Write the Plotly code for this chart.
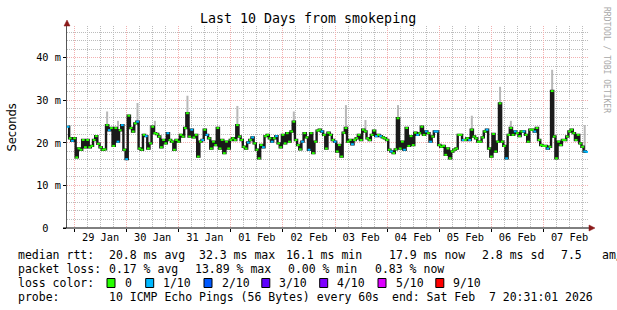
import plotly.graph_objects as go
import pandas as pd

# ---------------- data ----------------
title_text = "Last 10 Days from smokeping"
range_start = "2026-01-28 20:31:01"
range_end = "2026-02-07 20:31:01"
first_sample = "2026-01-28 21:00"

median_ms = [
    23.8, 21.1, 20.5, 21.1, 16.6, 18.7, 18.4, 20.7, 19.0, 20.7,
    19.0, 19.3, 20.7, 21.6, 19.8, 19.0, 18.4, 18.5, 24.2, 23.0,
    23.5, 19.3, 23.5, 20.3, 23.0, 24.2, 18.4, 16.2, 26.4, 23.5,
    22.7, 24.6, 25.0, 18.7, 18.4, 21.9, 21.6, 18.7, 19.9, 23.8,
    22.3, 22.1, 21.5, 19.0, 20.7, 19.9, 22.3, 20.7,
    20.3, 18.4, 20.7, 20.3, 21.9, 21.5, 23.5, 27.0, 21.5, 23.1,
    21.3, 21.9, 16.8, 20.3, 20.7, 23.1, 21.9, 21.1, 18.7, 20.3,
    19.5, 23.5, 18.7, 20.7, 17.6, 20.3, 18.7, 20.7, 21.1, 20.7,
    24.2, 21.5, 20.7, 19.1, 18.7, 20.1, 20.7, 21.3, 19.9, 18.4,
    16.4, 19.5, 19.0, 21.6, 21.9, 21.1, 20.3, 21.1,
    21.6, 19.9, 19.0, 21.9, 19.9, 22.3, 20.3, 22.7, 25.0, 20.7,
    19.5, 18.5, 20.3, 22.3, 21.3, 18.4, 22.3, 17.6, 20.3, 22.9,
    23.1, 22.7, 21.9, 18.7, 22.4, 21.9, 20.7, 20.3, 18.0, 19.5,
    16.8, 22.4, 23.5, 20.3, 20.7, 19.7, 20.7, 21.1, 21.9, 20.7,
    23.1, 22.7, 21.1, 20.7, 21.9, 22.9, 21.6, 21.9,
    21.6, 21.3, 21.1, 20.7, 18.4, 18.0, 17.6, 18.5, 25.8, 18.7,
    20.3, 18.4, 23.5, 19.3, 21.6, 19.5, 22.4, 21.9, 22.3, 23.8,
    21.9, 22.7, 22.3, 20.3, 21.5, 22.7, 22.7, 19.5, 19.1, 19.3,
    17.2, 18.7, 16.4, 18.0, 18.4, 18.7, 21.9, 21.9, 20.7, 20.7,
    21.1, 20.7, 23.1, 21.5, 21.1, 20.3, 20.3, 21.3,
    22.7, 23.1, 18.7, 16.8, 22.1, 18.0, 20.3, 29.3, 20.3, 19.3,
    16.4, 21.9, 23.5, 21.9, 22.7, 22.3, 21.6, 22.7, 22.7, 21.9,
    20.3, 23.1, 23.1, 22.7, 23.5, 20.7, 19.5, 19.3, 19.3, 18.7,
    19.1, 32.2, 21.5, 16.4, 20.3, 19.5, 20.7, 20.7, 21.5, 22.7,
    23.1, 22.3, 20.7, 21.9, 19.9, 19.1, 18.0, 17.9,
]
loss_1of10_idx = [0, 2, 19, 23, 25, 27, 32, 36, 46,
                  57, 62, 64, 83, 85, 90, 94,
                  96, 108, 111, 117, 123, 131, 142,
                  144, 149, 155, 161, 165, 167, 169, 170, 182, 185,
                  193, 202, 206, 210, 215, 221, 238, 239]
spike_idx = [18, 23, 32, 38, 40, 55, 78, 104, 128, 137, 152, 186, 199, 204, 223, 238]
spike_top_ms = [27.4, 25.2, 29.4, 24.2, 25.2, 31.1, 28.7, 27.4, 28.9, 25.4,
                28.9, 26.4, 33.2, 25.2, 37.2, 24.2]

ytick_vals = [0, 10, 20, 30, 40]
ytick_text = ["0\u00a0\u00a0", "10 m", "20 m", "30 m", "40 m"]

loss_labels = ["0", "1/10", "2/10", "3/10", "4/10", "5/10", "9/10"]
loss_colors = ["#26ff00", "#00b8ff", "#0059ff", "#5e00ff", "#7e00ff", "#dd00ff", "#ff0000"]

rtt_label = "median rtt:"
rtt_stats = ["20.8 ms avg", "32.3 ms max", "16.1 ms min", "17.9 ms now", "2.8 ms sd", "7.5", "am/as"]
loss_label = "packet loss:"
loss_stats = ["0.17 % avg", "13.89 % max", "0.00 % min", "0.83 % now"]
probe_text = "10 ICMP Echo Pings (56 Bytes) every 60s"
end_text = "end: Sat Feb\u00a0\u00a07 20:31:01 2026"

# ---------------- figure ----------------
W, H = 617, 310
L, R, T, B = 67, 29, 26, 82
PW, PH = W - L - R, H - T - B
MONO = "DejaVu Sans Mono"
LEG = 11.5


def px(x):
    return (x - L) / PW


def py(y):
    return (H - B - y) / PH


times = pd.date_range(first_sample, periods=len(median_ms), freq="h")
loss_level = [1 if i in loss_1of10_idx else 0 for i in range(len(median_ms))]
mark_colors = [loss_colors[l] for l in loss_level]

fig = go.Figure()

# smoke spikes (grey)
sx, sy = [], []
for i, top in zip(spike_idx, spike_top_ms):
    sx += [times[i], times[i], None]
    sy += [median_ms[i], top, None]
fig.add_trace(go.Scatter(x=sx, y=sy, mode="lines",
                         line=dict(color="#b8b8b8", width=2),
                         hoverinfo="skip", showlegend=False))

# median line (black steps)
fig.add_trace(go.Scatter(x=times, y=median_ms, mode="lines",
                         line=dict(color="#1a1a1a", width=2.4, shape="hvh"),
                         hoverinfo="skip", showlegend=False))

# loss-coloured median ticks
fig.add_trace(go.Scatter(x=times, y=median_ms, mode="markers",
                         marker=dict(symbol="line-ew", size=2,
                                     line=dict(color=mark_colors, width=2)),
                         showlegend=False))

grid_major = "#f2b0b0"
grid_minor = "#bcbcbc"
DASH = "1px,1px"

fig.update_layout(
    width=W, height=H,
    margin=dict(l=L, r=R, t=T, b=B),
    paper_bgcolor="white", plot_bgcolor="white",
    showlegend=False,
    xaxis=dict(
        type="date", range=[range_start, range_end],
        tick0="2026-01-29", dtick=86400000,
        tickformat="%d %b", ticklabelmode="period",
        showgrid=True, gridcolor=grid_major, griddash=DASH, gridwidth=1,
        ticks="outside", ticklen=3, tickcolor="#000",
        ticklabelstandoff=-3,
        tickfont=dict(family=MONO, size=10.3, color="#000"),
        showline=False, zeroline=False,
        minor=dict(dtick=6 * 3600 * 1000, showgrid=True, gridcolor=grid_minor,
                   griddash=DASH, ticks=""),
    ),
    yaxis=dict(
        range=[0, 47.5],
        tickvals=ytick_vals, ticktext=ytick_text,
        showgrid=True, gridcolor=grid_major, griddash=DASH,
        ticks="outside", ticklen=3, tickcolor="#000",
        tickfont=dict(family=MONO, size=10.3, color="#000"),
        showline=True, linecolor="#555", linewidth=1,
        zeroline=False,
        minor=dict(dtick=2, showgrid=True, gridcolor=grid_minor,
                   griddash=DASH, ticks=""),
    ),
)

shapes = []
# x axis line + arrows
shapes.append(dict(type="line", xref="paper", yref="paper",
                   x0=px(63), x1=px(592), y0=0, y1=0,
                   line=dict(color="#000", width=1)))
shapes.append(dict(type="path", xref="paper", yref="paper",
                   path=f"M {px(589)} {py(225)} L {px(595)} {py(228)} L {px(589)} {py(231)} Z",
                   fillcolor="#8b1a1a", line=dict(color="#8b1a1a", width=0.5)))
shapes.append(dict(type="path", xref="paper", yref="paper",
                   path=f"M {px(64)} {py(26)} L {px(67)} {py(20)} L {px(70)} {py(26)} Z",
                   fillcolor="#8b1a1a", line=dict(color="#8b1a1a", width=0.5)))

annotations = []


def txt(x, y, s, size=LEG, family=MONO, color="#000", xanchor="left", angle=0):
    annotations.append(dict(x=px(x), y=py(y), xref="paper", yref="paper",
                            text=s, showarrow=False, xanchor=xanchor,
                            yanchor="middle", textangle=angle,
                            font=dict(family=family, size=size, color=color)))


txt(307.5, 19, title_text, size=13.3, xanchor="center")
txt(11, 127.5, "Seconds", size=11.5, family="DejaVu Sans", xanchor="center", angle=-90)
txt(607, 60, "RRDTOOL / TOBI OETIKER", size=8, color="#a8a8a8", xanchor="center", angle=90)

Y1, Y2, Y3, Y4 = 255, 269, 283, 297
# legend line 1
txt(16, Y1, rtt_label)
for xpos, s in zip([107, 197, 284, 386.7, 479.5, 559, 600], rtt_stats):
    txt(xpos, Y1, s)
# legend line 2
txt(16, Y2, loss_label)
for xpos, s in zip([107, 193, 286, 373], loss_stats):
    txt(xpos, Y2, s)
# legend line 3
txt(16, Y3, "loss color:")
box_x = [107, 145.7, 204, 261.8, 319.7, 378, 435.8]
for bx, lab, col in zip(box_x, loss_labels, loss_colors):
    shapes.append(dict(type="rect", xref="paper", yref="paper",
                       x0=px(bx), x1=px(bx + 8), y0=py(Y3 + 4.5), y1=py(Y3 - 4.5),
                       fillcolor=col, line=dict(color="#000", width=1)))
    txt(bx + 15.5, Y3, lab)
# legend line 4
txt(16, Y4, "probe:")
txt(107, Y4, probe_text)
txt(390, Y4, end_text)

fig.update_layout(shapes=shapes, annotations=annotations)
fig.write_html("out.html")
